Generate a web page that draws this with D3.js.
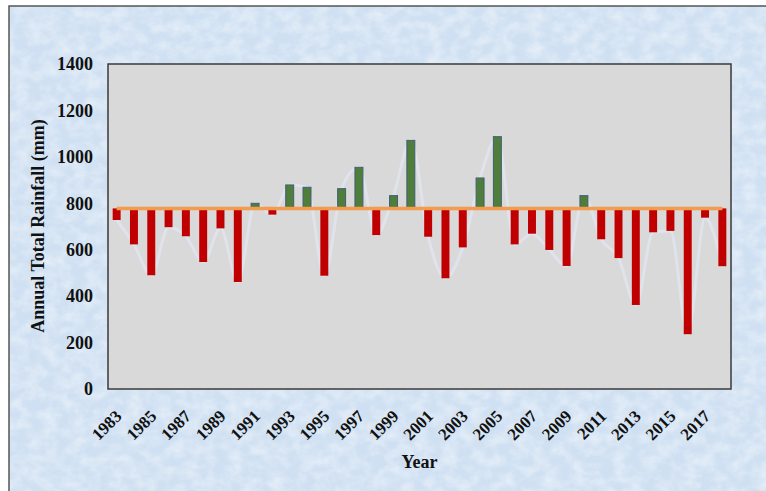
<!DOCTYPE html>
<html lang="en">
<head>
    <meta charset="UTF-8">
    <title>Annual Total Rainfall</title>
    <script src="https://cdn.jsdelivr.net/npm/d3@7"></script>
    <style>
        body { margin: 0; background: #fff; }
        text { font-family: "Times New Roman", "Liberation Serif", serif; font-weight: bold; fill: #111; }
    </style>
</head>
<body>
    <svg id="chart" width="766" height="491"></svg>

    <script>
        // years and annual rainfall (mm)
        const years = d3.range(1983, 2019);
        const rainfall = [728, 623, 490, 697, 658, 547, 692, 461, 800, 751, 879, 869,
                          488, 863, 955, 663, 833, 1071, 656, 477, 610, 909, 1087, 623,
                          669, 599, 530, 833, 645, 564, 362, 675, 681, 236, 738, 529];
        const refLine = 778;
        const yTicks = [0, 200, 400, 600, 800, 1000, 1200, 1400];
        const xTickYears = years.filter((d, i) => i % 2 === 0);

        const data = years.map((y, i) => ({ year: y, value: rainfall[i] }));

        const plot = { left: 108, top: 64, right: 731, bottom: 389 };

        const svg = d3.select("#chart");
        const defs = svg.append("defs");

        //marbled light blue backdrop
        const f = defs.append("filter").attr("id", "marble")
            .attr("x", 0).attr("y", 0).attr("width", 1).attr("height", 1);
        f.append("feTurbulence")
            .attr("type", "fractalNoise")
            .attr("baseFrequency", "0.07 0.09")
            .attr("numOctaves", 4)
            .attr("seed", 7);
        f.append("feColorMatrix")
            .attr("type", "matrix")
            .attr("values", "0 0 0 0 1  0 0 0 0 1  0 0 0 0 1  0 0 0 1.4 -0.45");

        svg.append("rect")
            .attr("x", 9).attr("y", 6)
            .attr("width", 770).attr("height", 500)
            .attr("fill", "#cfe0f2");
        svg.append("rect")
            .attr("x", 9).attr("y", 6)
            .attr("width", 770).attr("height", 500)
            .attr("filter", "url(#marble)")
            .attr("opacity", 0.55);
        svg.append("rect")
            .attr("x", 9).attr("y", 6)
            .attr("width", 770).attr("height", 500)
            .attr("fill", "none")
            .attr("stroke", "#555")
            .attr("stroke-width", 1.5);

        //scales
        const x = d3.scaleBand()
            .domain(years)
            .range([plot.left, plot.right])
            .paddingInner(0.54)
            .paddingOuter(0.27);
        const y = d3.scaleLinear()
            .domain([0, 1400])
            .range([plot.bottom, plot.top]);
        const cx = d => x(d) + x.bandwidth() / 2;

        //plot area
        svg.append("rect")
            .attr("x", plot.left).attr("y", plot.top)
            .attr("width", plot.right - plot.left)
            .attr("height", plot.bottom - plot.top)
            .attr("fill", "#d9d9d9")
            .attr("stroke", "#3a3a3a")
            .attr("stroke-width", 1.5);

        //faint line joining the yearly values
        svg.append("path")
            .datum(data)
            .attr("fill", "none")
            .attr("stroke", "#e4eaf8")
            .attr("stroke-opacity", 0.6)
            .attr("stroke-width", 3)
            .attr("d", d3.line().x(d => cx(d.year)).y(d => y(d.value)).curve(d3.curveMonotoneX));

        //bars hanging from the reference line
        svg.selectAll(".bar")
            .data(data)
            .enter().append("rect")
            .attr("class", "bar")
            .attr("x", d => x(d.year))
            .attr("width", x.bandwidth())
            .attr("y", d => Math.min(y(d.value), y(refLine)))
            .attr("height", d => Math.abs(y(d.value) - y(refLine)))
            .attr("fill", d => d.value >= refLine ? "#4f7d3a" : "#c00000")
            .attr("stroke", d => d.value >= refLine ? "#3f5f7a" : "none")
            .attr("stroke-width", 1);

        //reference line
        svg.append("line")
            .attr("x1", cx(years[0]))
            .attr("x2", cx(years[years.length - 1]))
            .attr("y1", y(refLine))
            .attr("y2", y(refLine))
            .attr("stroke", "#f39b4e")
            .attr("stroke-width", 3.5);

        //y-axis labels
        svg.append("g")
            .selectAll("text")
            .data(yTicks)
            .enter().append("text")
            .attr("x", 93)
            .attr("y", d => y(d))
            .attr("dy", "0.35em")
            .attr("text-anchor", "end")
            .style("font-size", "18px")
            .text(d => d);

        //x-axis labels, every other year
        svg.append("g")
            .selectAll("text")
            .data(xTickYears)
            .enter().append("text")
            .attr("transform", d => `translate(${cx(d) + 2},${plot.bottom + 24}) rotate(-45)`)
            .attr("text-anchor", "end")
            .attr("dy", "0.35em")
            .style("font-size", "17px")
            .text(d => d);

        //axis titles
        svg.append("text")
            .attr("x", (plot.left + plot.right) / 2)
            .attr("y", 468)
            .attr("text-anchor", "middle")
            .style("font-size", "18px")
            .text("Year");
        svg.append("text")
            .attr("transform", "rotate(-90)")
            .attr("x", -226)
            .attr("y", 44)
            .attr("text-anchor", "middle")
            .style("font-size", "18px")
            .text("Annual Total Rainfall (mm)");
    </script>
</body>
</html>
